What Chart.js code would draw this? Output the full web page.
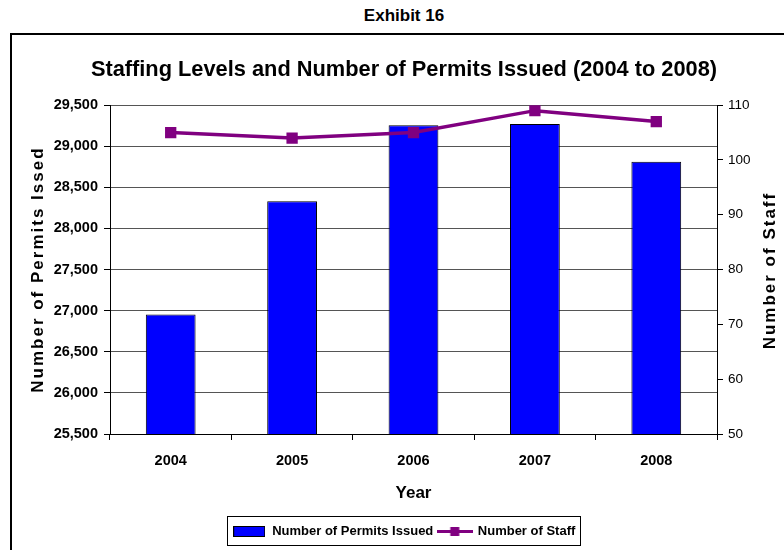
<!DOCTYPE html>
<html><head><meta charset="utf-8">
<script src="https://cdn.jsdelivr.net/npm/chart.js@4.4.1/dist/chart.umd.min.js"></script>
<style>
html,body{margin:0;padding:0;background:#fff;}
#wrap{position:relative;width:784px;height:550px;overflow:hidden;background:#fff;}
#exhibit{position:absolute;left:0;width:808px;top:6px;text-align:center;font:bold 17px "Liberation Sans",Arial,sans-serif;color:#000;}
#frame{position:absolute;left:10px;top:33px;width:800px;height:600px;border:2px solid #000;box-sizing:border-box;}
canvas{position:absolute;left:0;top:0;}
</style></head>
<body><div id="wrap"><div id="exhibit">Exhibit 16</div><div id="frame"></div><canvas id="c" width="784" height="550"></canvas></div>
<script>
// ---- data ----
const years = ['2004', '2005', '2006', '2007', '2008'];
const permitsIssued = [26955, 28330, 29255, 29272, 28812];
const staffCount = [105, 104, 105, 109, 107];
const permitsAxis = [25500, 29500, 500];   // min, max, step
const staffAxis = [50, 110, 10];           // min, max, step

const FONT = '"Liberation Sans", Arial, sans-serif';
Chart.defaults.font.family = FONT;
Chart.defaults.color = '#000';

function swatch(w, h, drawFn) {
  const c = document.createElement('canvas');
  c.width = w; c.height = h;
  drawFn(c.getContext('2d'), w, h);
  return c;
}
const barSwatch = swatch(32, 11, (g, w, h) => {
  g.fillStyle = '#0000FF'; g.fillRect(0, 0, w, h);
  g.strokeStyle = '#000'; g.lineWidth = 1; g.strokeRect(0.5, 0.5, w - 1, h - 1);
});
const lineSwatch = swatch(36, 11, (g, w, h) => {
  g.strokeStyle = '#800080'; g.lineWidth = 3;
  g.beginPath(); g.moveTo(0, h / 2); g.lineTo(w, h / 2); g.stroke();
  g.fillStyle = '#800080'; g.fillRect(w / 2 - 4.5, h / 2 - 4.5, 9, 9);
});

const spacedTitles = {
  id: 'spacedTitles',
  beforeDraw(chart) {
    const y = chart.scales.y;
    if (y && !y._spacedPatched) {
      const orig = y.drawTitle.bind(y);
      y.drawTitle = function () {
        const ctx = this.ctx; ctx.save(); ctx.letterSpacing = '2px'; orig(); ctx.restore();
      };
      y._spacedPatched = true;
    }
    const y1 = chart.scales.y1;
    if (y1 && !y1._spacedPatched) {
      y1.drawTitle = function () {
        const ctx = this.ctx, t = this.options.title;
        ctx.save();
        ctx.letterSpacing = '2px';
        ctx.font = 'bold 17px ' + FONT;
        ctx.fillStyle = '#000';
        ctx.textAlign = 'center'; ctx.textBaseline = 'middle';
        ctx.translate(this.right - 14, (this.top + this.bottom) / 2 + 1);
        ctx.rotate(-Math.PI / 2);
        ctx.fillText(t.text, 0, 0);
        ctx.restore();
      };
      y1._spacedPatched = true;
    }
  }
};

const legendFrame = {
  id: 'legendFrame',
  afterDraw(chart) {
    const hb = chart.legend && chart.legend.legendHitBoxes;
    if (!hb || !hb.length) return;
    const ctx = chart.ctx;
    const l = Math.min(...hb.map(h => h.left));
    const r = Math.max(...hb.map(h => h.left + h.width));
    const t = Math.min(...hb.map(h => h.top));
    const b = Math.max(...hb.map(h => h.top + h.height));
    ctx.save();
    ctx.strokeStyle = '#000'; ctx.lineWidth = 1;
    ctx.strokeRect(Math.round(l - 6) + 0.5, Math.round(t - 9) + 0.5, Math.round(r - l + 10), Math.round(b - t + 16));
    ctx.restore();
  }
};

new Chart(document.getElementById('c'), {
  type: 'bar',
  data: {
    labels: years,
    datasets: [
      {
        type: 'bar', label: 'Number of Permits Issued', data: permitsIssued, yAxisID: 'y',
        backgroundColor: '#0000FF', borderColor: '#000', borderWidth: 1,
        barPercentage: 0.41, categoryPercentage: 1, order: 2
      },
      {
        type: 'line', label: 'Number of Staff', data: staffCount, yAxisID: 'y1',
        borderColor: '#800080', backgroundColor: '#800080', borderWidth: 3.5,
        pointStyle: 'rect', pointRadius: 8, pointHoverRadius: 8,
        pointBackgroundColor: '#800080', pointBorderColor: '#800080', pointBorderWidth: 0,
        tension: 0, order: 1
      }
    ]
  },
  options: {
    responsive: false,
    animation: false,
    devicePixelRatio: 1,
    layout: { padding: { left: 24, right: 0, top: 34, bottom: 2 } },
    plugins: {
      title: {
        display: true,
        text: 'Staffing Levels and Number of Permits Issued (2004 to 2008)',
        font: { size: 21.8, weight: 'bold' }, color: '#000',
        padding: { top: 23, bottom: 22 }
      },
      legend: {
        position: 'bottom',
        labels: {
          usePointStyle: true, pointStyleWidth: 33, boxHeight: 11,
          font: { size: 13, weight: 'bold' }, color: '#000', padding: 5,
          generateLabels(chart) {
            return chart.data.datasets.map((ds, i) => ({
              text: ds.label, datasetIndex: i, hidden: false,
              pointStyle: i === 0 ? barSwatch : lineSwatch,
              fillStyle: ds.backgroundColor, strokeStyle: ds.borderColor, lineWidth: 0
            }));
          }
        }
      },
      tooltip: { enabled: false }
    },
    scales: {
      x: {
        grid: { display: true, drawOnChartArea: false, drawTicks: true, tickLength: 6, color: '#000', offset: true },
        border: { color: '#000', width: 1 },
        ticks: { font: { size: 14.5, weight: 'bold' }, color: '#000', padding: 12 },
        title: { display: true, text: 'Year', font: { size: 17, weight: 'bold' }, color: '#000', padding: { top: 8, bottom: 16 } },
        afterFit(s) { s.height = 86; }
      },
      y: {
        position: 'left',
        min: permitsAxis[0], max: permitsAxis[1],
        ticks: { stepSize: permitsAxis[2], font: { size: 14.5, weight: 'bold' }, color: '#000', padding: 6,
          callback: v => Number(v).toLocaleString('en-US') },
        grid: { color: '#555', lineWidth: 1, tickLength: 6, tickColor: '#000' },
        border: { color: '#000', width: 1 },
        title: { display: true, text: 'Number of Permits Issed', font: { size: 17, weight: 'bold' }, color: '#000', padding: { top: 4, bottom: 0 } },
        afterFit(s) { s.width = 86; }
      },
      y1: {
        position: 'right',
        min: staffAxis[0], max: staffAxis[1],
        ticks: { stepSize: staffAxis[2], font: { size: 13.5 }, color: '#000', padding: 5 },
        grid: { drawOnChartArea: false, tickLength: 6, color: '#000' },
        border: { color: '#000', width: 1 },
        title: { display: true, text: 'Number of Staff', font: { size: 17, weight: 'bold' }, color: '#000', padding: { top: 4, bottom: 0 } },
        afterFit(s) { s.width = 67; }
      }
    }
  },
  plugins: [spacedTitles, legendFrame]
});
</script>
</body></html>
